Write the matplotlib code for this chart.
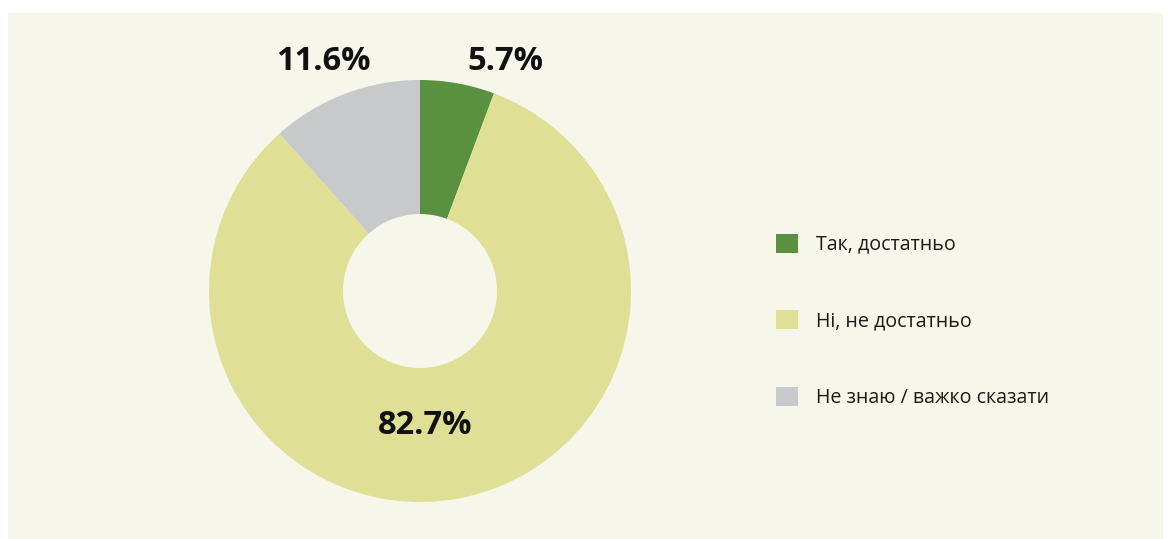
import matplotlib.pyplot as plt
from matplotlib.patches import Rectangle

# Data
labels = ['Так, достатньо', 'Ні, не достатньо', 'Не знаю / важко сказати']
values = [5.7, 82.7, 11.6]
colors = ['#5a9140', '#dfe096', '#c8c9cb']

W, H = 1173, 539
fig = plt.figure(figsize=(W / 100, H / 100), dpi=100)
fig.patch.set_facecolor('white')
ax = fig.add_axes([0, 0, 1, 1])
ax.set_xlim(0, W)
ax.set_ylim(0, H)
ax.set_aspect('equal')
ax.axis('off')

# beige panel
ax.add_patch(Rectangle((8, 0), 1155, H - 13, facecolor='#f6f6ea', edgecolor='none', zorder=0))

cx, cy = 420, H - 291
r_out, r_in = 211, 77
wedges, _ = ax.pie(values, colors=colors, startangle=90, counterclock=False,
                   center=(cx, cy), radius=r_out, frame=True,
                   wedgeprops=dict(width=r_out - r_in, edgecolor='none'))
ax.set_xlim(0, W)
ax.set_ylim(0, H)
ax.axis('off')

# percentage labels
lbl_font = dict(fontsize=23.5, fontweight='bold', family='Open Sans', color='#111111',
                ha='center', va='center')
ax.text(323, H - 61, f'{values[2]}%', **lbl_font)
ax.text(505, H - 61, f'{values[0]}%', **lbl_font)
ax.text(425, H - 425, f'{values[1]}%', **lbl_font)

leg = ax.legend(wedges, labels, loc='upper left', bbox_to_anchor=(758 / W, 1 - 216 / H),
                frameon=False, labelspacing=2.82,
                handlelength=1.13, handleheight=1.13, handletextpad=0.92,
                prop={'family': 'Open Sans', 'size': 14.1})
for t in leg.get_texts():
    t.set_color('#1a1a1a')

fig.savefig('out.png', dpi=100, facecolor=fig.get_facecolor())
